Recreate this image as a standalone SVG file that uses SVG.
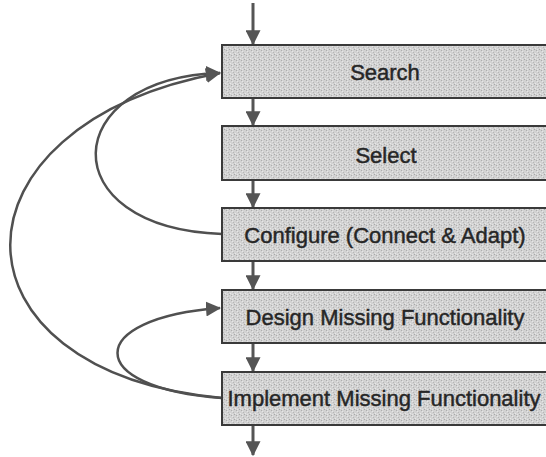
<svg xmlns="http://www.w3.org/2000/svg" width="546" height="457" viewBox="0 0 546 457">
<style>
.box{fill:url(#grain);stroke:#3a3a3a;stroke-width:2}
.lbl{font-family:"Liberation Sans",Arial,sans-serif;font-size:22px;fill:#262626;text-anchor:middle;stroke:#262626;stroke-width:0.45}
.flow{fill:none;stroke:#555;stroke-width:3}
.loop{fill:none;stroke:#505050;stroke-width:2.5}
</style>
<defs>
<pattern id="grain" width="5" height="5" patternUnits="userSpaceOnUse">
<rect width="5" height="5" fill="#d2d2d2"/>
<rect x="1" y="0" width="1" height="1" fill="#aeaeae"/>
<rect x="3" y="2" width="1" height="1" fill="#b6b6b6"/>
<rect x="0" y="3" width="1" height="1" fill="#e8e8e8"/>
<rect x="4" y="4" width="1" height="1" fill="#a8a8a8"/>
<rect x="2" y="4" width="1" height="1" fill="#e4e4e4"/>
<rect x="2" y="1" width="1" height="1" fill="#e6e6e6"/>
</pattern>
<marker id="ah" markerWidth="5" markerHeight="5" refX="4.6" refY="2.5" orient="auto" markerUnits="strokeWidth">
<path d="M0,0 L5,2.5 L0,5 Z" fill="#555"/>
</marker>
<marker id="ahc" markerWidth="6" markerHeight="6" refX="5.6" refY="3" orient="auto" markerUnits="strokeWidth">
<path d="M0,0 L6,3 L0,6 Z" fill="#555"/>
</marker>
</defs>
<g id="connectors">
<line class="flow" x1="253" y1="3" x2="253" y2="44" marker-end="url(#ah)"/>
<line class="flow" x1="253" y1="99" x2="253" y2="125" marker-end="url(#ah)"/>
<line class="flow" x1="253" y1="181" x2="253" y2="207" marker-end="url(#ah)"/>
<line class="flow" x1="253" y1="262" x2="253" y2="289" marker-end="url(#ah)"/>
<line class="flow" x1="253" y1="344" x2="253" y2="371" marker-end="url(#ah)"/>
<line class="flow" x1="253" y1="426" x2="253" y2="455" marker-end="url(#ah)"/>
<path class="loop" d="M222,234 C50,228 58,78 220,73" marker-end="url(#ahc)"/>
<path class="loop" d="M222,398 C-60,372 -60,125 220,73" marker-end="url(#ahc)"/>
<path class="loop" d="M222,398 C82,388 84,318 220,308" marker-end="url(#ahc)"/>
</g>
<g id="search"><rect class="box" x="222" y="45" width="330" height="53"/><text class="lbl" x="385" y="80">Search</text></g>
<g id="select"><rect class="box" x="222" y="126" width="330" height="54"/><text class="lbl" x="386" y="163">Select</text></g>
<g id="configure"><rect class="box" x="222" y="208" width="330" height="53"/><text class="lbl" x="385" y="243">Configure (Connect &amp; Adapt)</text></g>
<g id="design"><rect class="box" x="222" y="290" width="330" height="53"/><text class="lbl" x="385" y="325">Design Missing Functionality</text></g>
<g id="implement"><rect class="box" x="222" y="372" width="330" height="53"/><text class="lbl" x="384" y="406">Implement Missing Functionality</text></g>
</svg>
